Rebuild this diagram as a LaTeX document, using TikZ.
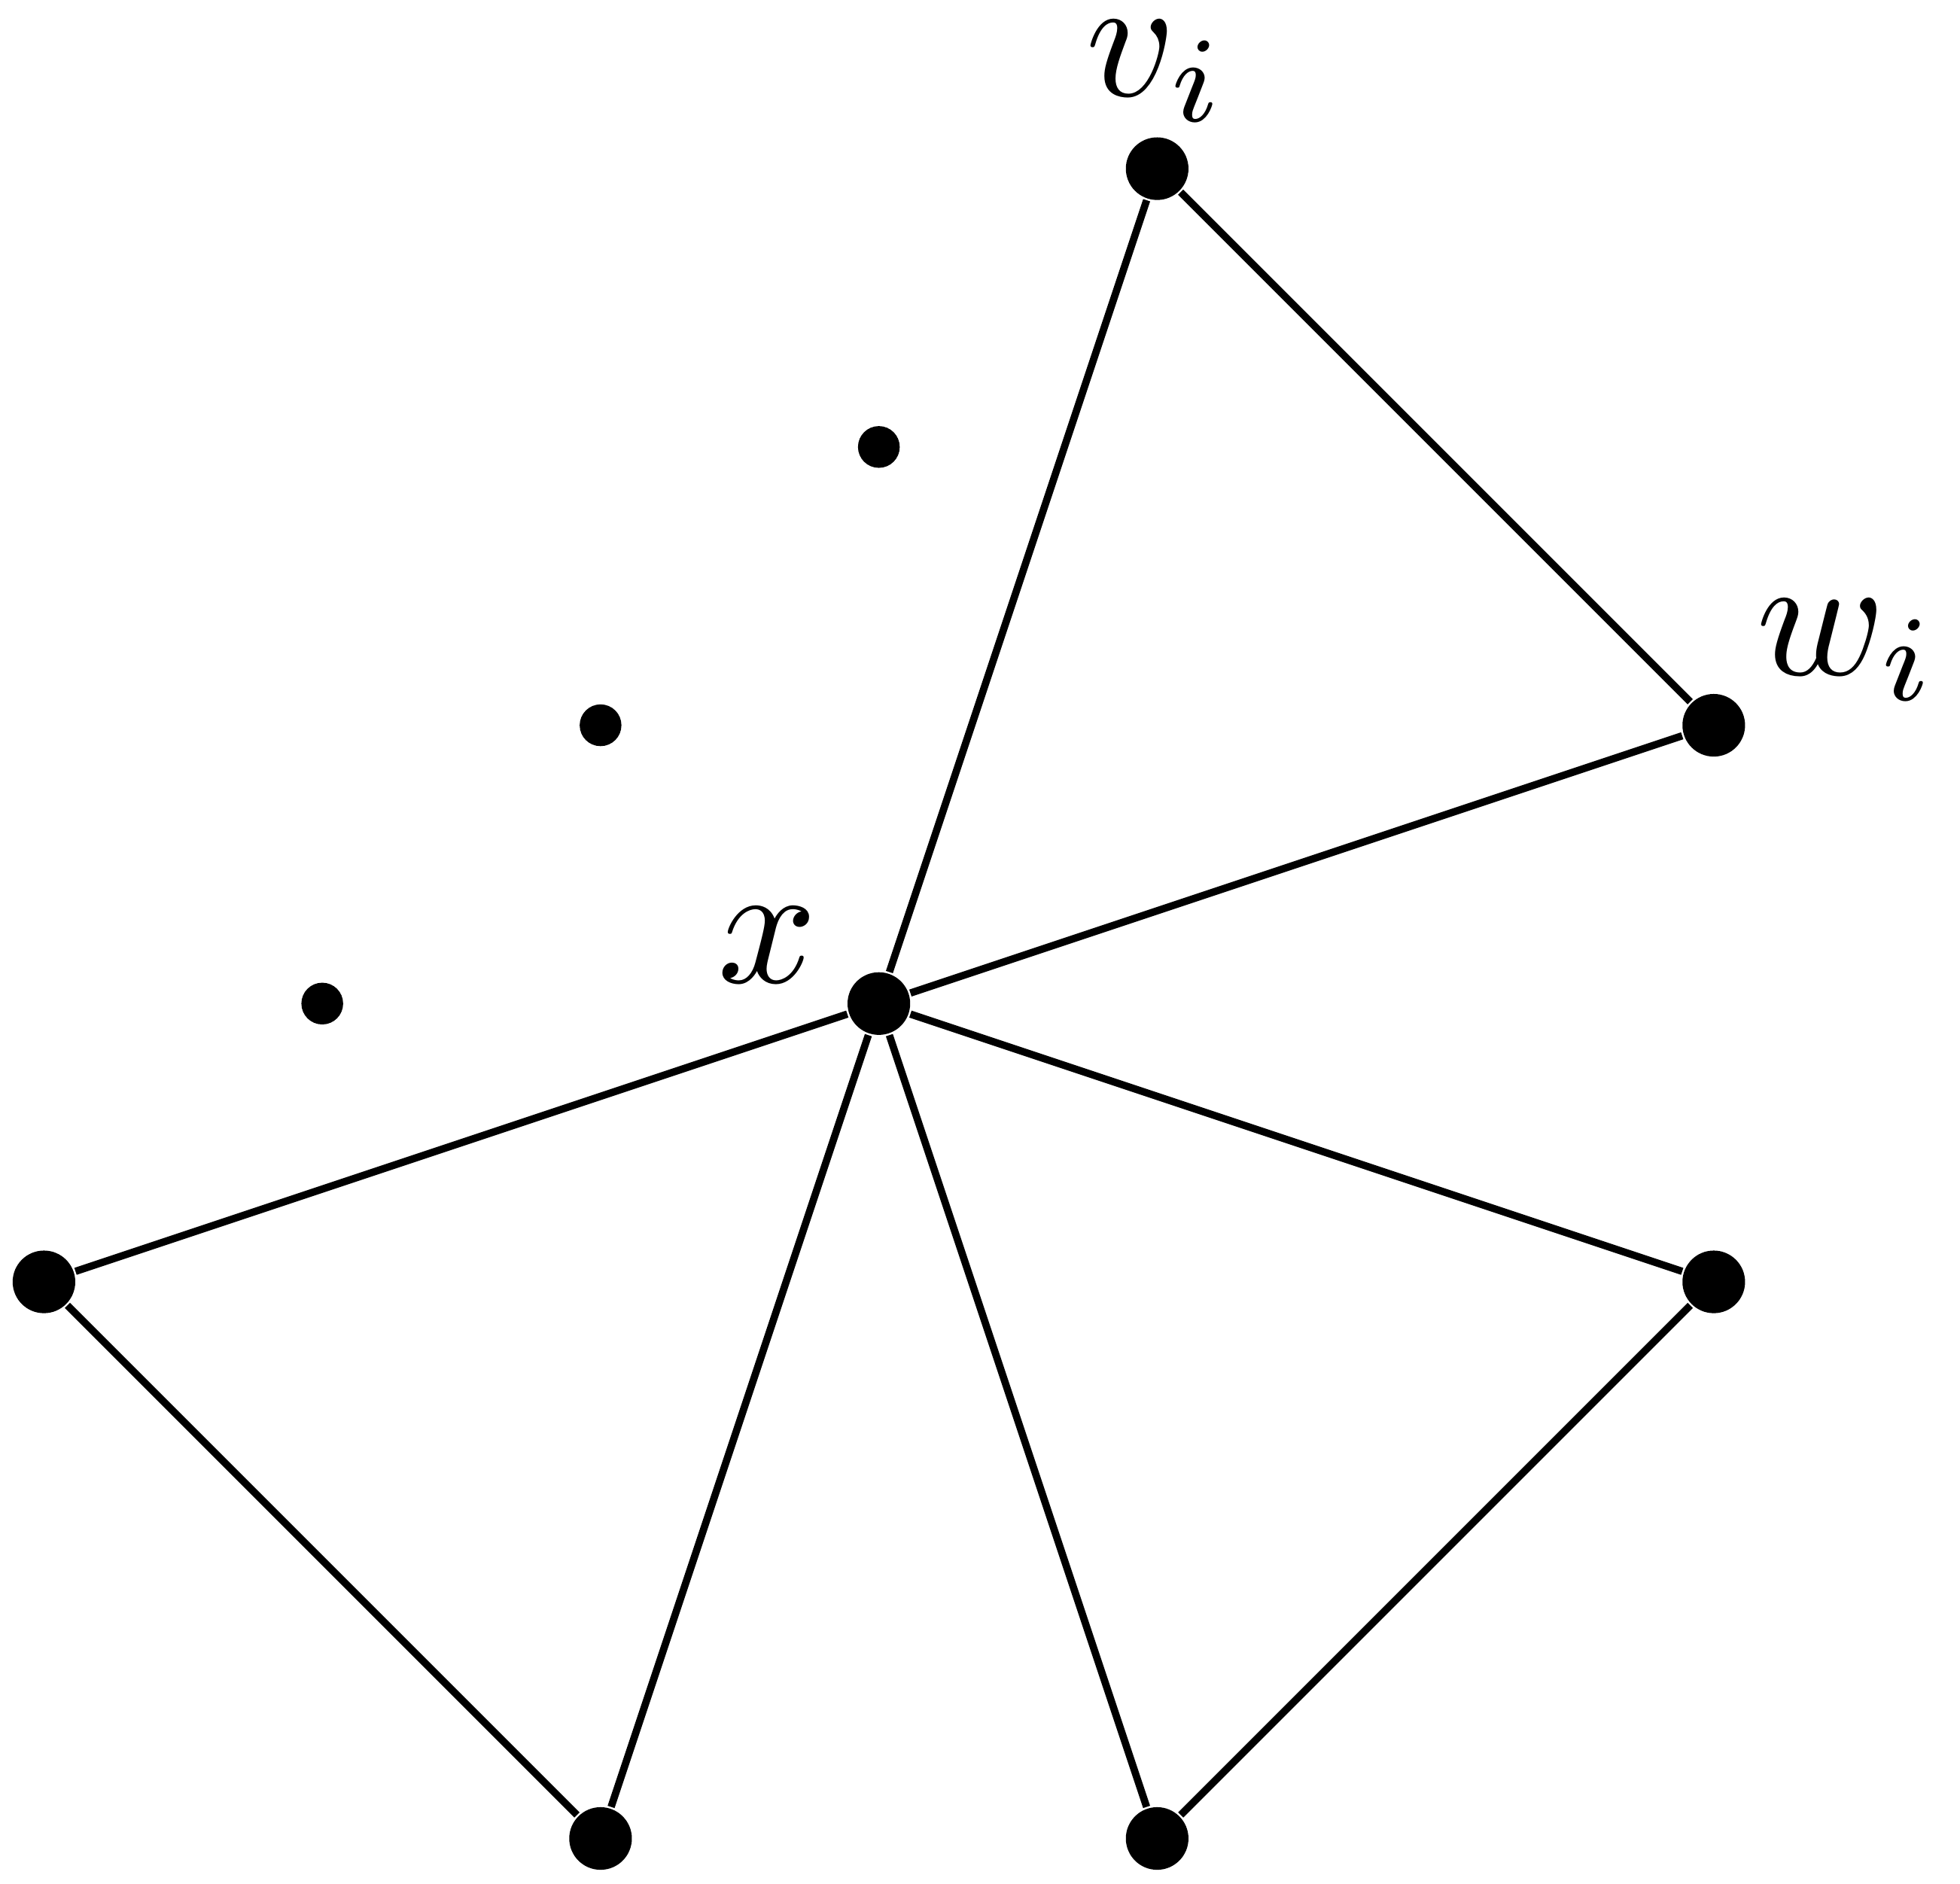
\documentclass[tikz,border=0pt]{standalone}
\usetikzlibrary{positioning}

\begin{document}
\begin{tikzpicture}[
    vertex/.style={circle, fill=black, inner sep=0pt, minimum size=2.25mm},
    smalldot/.style={circle, fill=black, inner sep=0pt, minimum size=1.5mm},
    lab/.style={inner sep=0pt, on grid, scale=1.78, transform shape},
    edge/.style={line width=0.75pt}
  ]
   \useasboundingbox (-3.158,-3.163) rectangle (3.885,3.606);
   % centre and the three triangles
   \node[vertex] (x)  at ( 0, 0) {};
   \node[vertex] (vi) at ( 1, 3) {};
   \node[vertex] (wi) at ( 3, 1) {};
   \node[vertex] (a)  at (-3,-1) {};
   \node[vertex] (b)  at (-1,-3) {};
   \node[vertex] (c)  at ( 1,-3) {};
   \node[vertex] (d)  at ( 3,-1) {};
   % dots
   \node[smalldot] (s1) at ( 0, 2) {};
   \node[smalldot] (s2) at (-1, 1) {};
   \node[smalldot] (s3) at (-2, 0) {};
   % labels
   \node[lab, above left=0.21 and 0.40 of x] (xlab) {$x$};
   \node[lab, above=0.35 of vi] (vilab) {$v_i$};
   \node[lab, above right=0.27 and 0.48 of wi] (wilab) {$w_i$};
   % edges
   \draw[edge] (x) -- (vi) -- (wi) -- (x);
   \draw[edge] (x) -- (a) -- (b) -- (x);
   \draw[edge] (x) -- (c) -- (d) -- (x);
\end{tikzpicture}
\end{document}
